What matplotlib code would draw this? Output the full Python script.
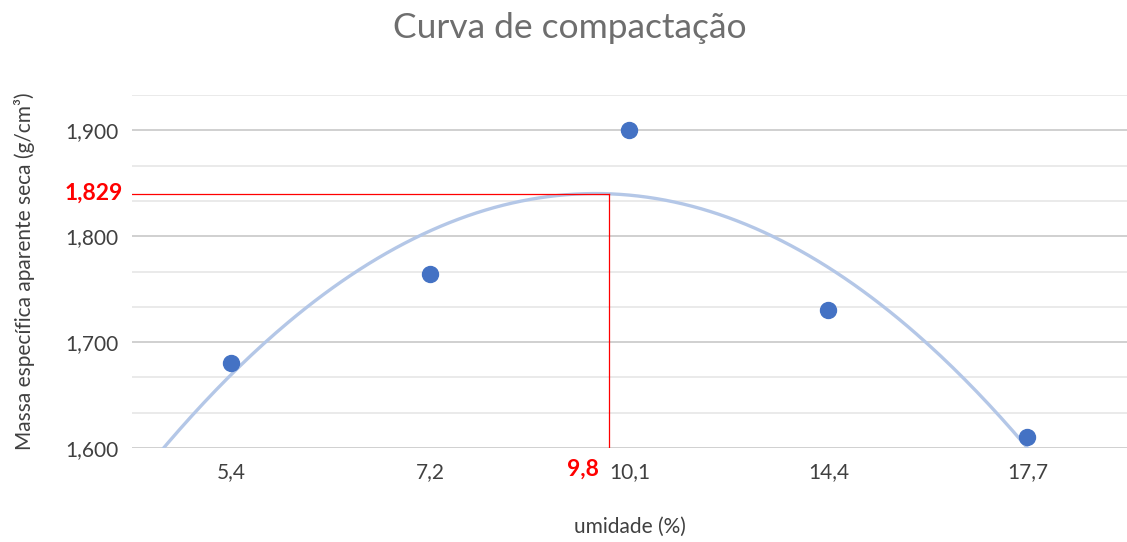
import numpy as np
import matplotlib.pyplot as plt

# dados do ensaio
umidade = [5.4, 7.2, 10.1, 14.4, 17.7]
massa = [1.680, 1.764, 1.900, 1.730, 1.610]
umidade_otima = 9.8
massa_max_label = "1,829"

plt.rcParams['font.family'] = ['Lato', 'DejaVu Sans']

fig = plt.figure(figsize=(11.27, 5.42), dpi=100)
ax = fig.add_axes([0.1171, 0.1734, 0.8829, 0.6513])

idx = np.arange(1, len(umidade) + 1)
# linha de tendencia polinomial (ordem 2) sobre as categorias
coef = np.polyfit(idx, massa, 2)
xt = np.linspace(0.5, 5, 300)
ax.plot(xt, np.polyval(coef, xt), color='#b4c7e7', lw=2.4, zorder=2)

ax.plot(idx, massa, 'o', color='#4472c4', ms=11.5, zorder=3)

# ponto otimo
xo = np.interp(umidade_otima, umidade, idx)
yo = np.polyval(coef, np.linspace(0.5, 5, 2000)).max()
ax.plot([0.5, xo], [yo, yo], color='red', lw=0.9, zorder=4)
ax.plot([xo, xo], [1.6, yo], color='red', lw=0.9, zorder=4)

ax.set_xlim(0.5, 5.5)
ax.set_ylim(1.6, 1.6 + 0.1 * 10 / 3)
ax.set_yticks([1.6, 1.7, 1.8, 1.9])
ax.set_yticklabels(['1,600', '1,700', '1,800', '1,900'])
ax.set_yticks(np.arange(1, 11) * 0.1 / 3 + 1.6, minor=True)
ax.set_xticks(idx)
ax.set_xticklabels([str(u).replace('.', ',') for u in umidade])
ax.tick_params(axis='both', length=0, labelsize=15, colors='#404040', pad=10)
ax.tick_params(axis='y', which='minor', length=0)
ax.grid(axis='y', which='major', color='#c8c8c8', lw=1.2)
ax.grid(axis='y', which='minor', color='#e6e6e6', lw=1.2)
ax.set_axisbelow(True)
for s in ax.spines.values():
    s.set_visible(False)

ax.text(-0.009, yo, massa_max_label, transform=ax.get_yaxis_transform(),
        ha='right', va='center', color='red', fontsize=16.5, fontweight='bold')
ax.text(xo - 0.05, -0.03, str(umidade_otima).replace('.', ','),
        transform=ax.get_xaxis_transform(), ha='right', va='top',
        color='red', fontsize=16.5, fontweight='bold')

fig.text(0.506, 0.948, 'Curva de compactação', ha='center', va='center',
         fontsize=25.5, color='#6e6e6e')
ax.set_xlabel('umidade (%)', fontsize=15, color='#404040', labelpad=26)
ax.set_ylabel('Massa específica aparente seca (g/cm³)', fontsize=15,
              color='#404040')
ax.yaxis.set_label_coords(-0.097, 0.5)
ax.xaxis.set_label_coords(0.5, -0.195)

fig.savefig('out.png')
